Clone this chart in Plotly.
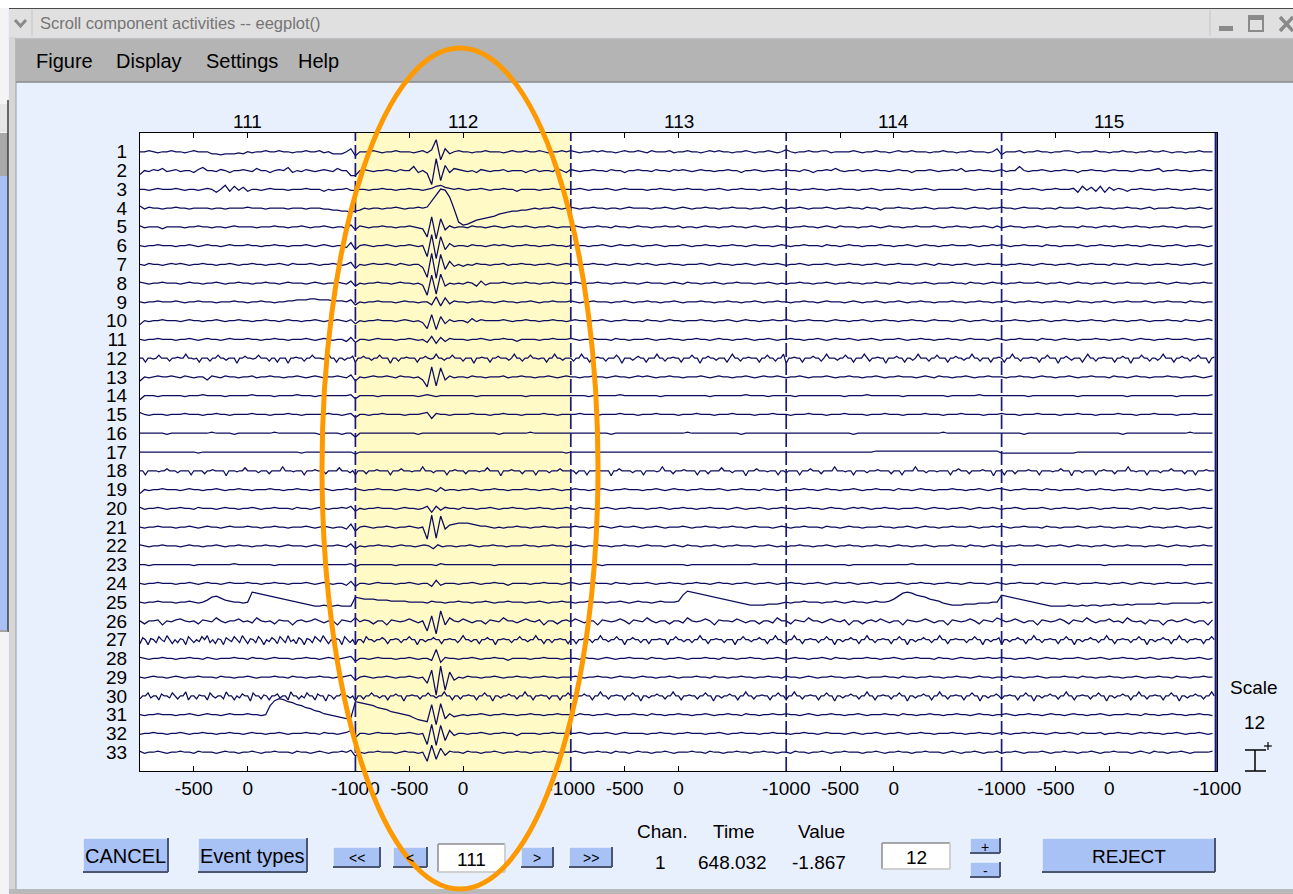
import plotly.graph_objects as go

W, H = 1293, 894

# ---------------------------------------------------------------- data
CHANNEL_LABELS = [str(i) for i in range(1, 34)]
EPOCH_NUMBERS = [111, 112, 113, 114, 115]
EPOCH_SPAN_MS = 2000          # each epoch runs from -1000 ms to +1000 ms
EPOCH_TICK_LATENCIES = [-1000, -500, 0]
SELECTED_EPOCH = 112
SCALE_UV = 12                 # vertical spacing between channels (uV)
UV_PER_STEP = 0.64            # amplitude of one code step in the traces
STATUS_HEADERS = ["Chan.", "Time", "Value"]
STATUS_VALUES = ["1", "648.032", "-1.867"]
EPOCH_BOX_VALUE = "111"
SCALE_BOX_VALUE = "12"

# Component activities, one string per channel, one space-separated block per
# epoch (samples spread evenly over the epoch).  Code letters: 'a' = 0,
# 'b'..'z' = +1..+25, 'A'..'Z' = -1..-26 steps.
CHANNEL_TRACES = [
    "aabaAaabaaAabaaaBBCBBBABaAaabaabaaAaabaabAaBBBad DaaabaAaabaaaAabAcmHdBabaaAaabaaaAabaabaabaAaaba baAaababaaAabaabaAbaaabAaabaaAababaaAaabaAaabaAa caAaabaabbAaaaabaAaabaaAabaabaaaAaabaaAaabaaaAad CaaabAaabaaAaabbaAaaabaaAaabaaAaabaabaAaaAaabaaa",
    "DaAbacAabAaaBbdaaAbaBaabaAcaaBabadBaAbaAabaAcaaE EabaAaabaAbaaeBaCNmJfBcbaAaBbaAaabAaaaBabAaaAcaB baAaabaaAbaaBaabaaAbaaAbabaAabaaAaabaaBaabaAaaba baaAbaBaabacaAaabAaabaaAabaaBaaabaAaabacAaabaaAa bAaaeaAaabaAaabaaBaabaaAabaaaAabaabcAaabaaAaabaa",
    "aaAabaaabaAaaAabaCaeBdAcBaaAabaaaAaaabaaaBaAaabA AaaAaabaaAaabaaAabdecbabaAaabaAaabaaBaaaaAaabaaa aabaAaaabaAabaaaaAaabaaAaabaaaAaabaAaabaaaAaabaa baaAaabaaAaabaaaAaabaAaaabaaAaabaAaaaaaabaAaabaa aaAabaabaAaabaaabCdAcBdCcAbaBaabaaAaabaaAaabaaAa",
    "cAbaaAaabaaAaaaaAaaAaaaabaaaAaaaaAaaaAaaaAABBCCD CBaAaaAaabaAaababhotslANQPNLKJIHFEDCCBBAaAaabaAa baAaabaaAaaAabaaaaAaabaAabaAaabaaAaabaaaAaabaAab AaabaAaaabaAaabaaAbaaBaaabaaAaabaAaaabaaAabaaAaa baaAabaaaAaaAbaaabaAaabaaAaabaaAabAaaabaaAaabaAa",
    "bAaaaBaaaaAaabaaAaaAabaaaaAaaabaaAaabaAaabaAaaBc CbaAaabaaAaabaABJkLiCbAaaAbaaAabaAabaabaAaabaAaa abaAaabaaAbaaAabaaAaabaabAaaAabaaAaabaaAabaAaaba aAaabaaAabaAbaaaAaabaAabaaAaabaaabaAaabaaAaabaAb AabaaAaabaAaabaaaAbaaAababaAaabaaAaabaaAabaaaAab",
    "aAaabaaaAaabaAabaaAabaaabaaAaabaaAaaabaAabaAaaBd DabaAaabaAaabaAaKlMjDcAaaAbaaAababaAaabaaAaabaaA abaaAaabaAabaabaAaabaAaaabaAaabaaAaabaaAabaaaAab aAaabaaaAbaaAabaaAaaabaaAaabaAabaaAaabaaabaAaaba baAaabaaaAbaaAaaabaAaabaaAaabaaAabaaAaabaAaabaAa",
    "aAbaaAababaAaabaaAaabaAaabaaAaabaAbaaabaAaabaAac DaAabaabaAbaAaaCMlNkEdBaBaAbaaAaabAaabaaAaabaAab aaAaabaaAabaaAababaAaabaaAaaabaAabaaAaabaAabaaba AaabaAaaabaAaabaaAaabaAaabaaaAabaAbaaAaabaAaabaa aAaabaaAabaaAaabaAaabaaaAbaaAabaaAaaabaaAaabaAab",
    "baAaabaaaAabaaAaabaAaabaaAaabaaAabaaaAabaAaabaAc CaAaabaaAabaaAaBLiKjCaAaAbaCcBaaabaAaabaaAaabaaA abaAaabaaAaabaaAabaaaAabaAbaaAaabaAaabaaaAaabaAa AaabaaAaabaAaabaaAaabaaAabaaAaabaAaaabaaAbaaAaba aAaabaaabaAaabaAabaaAaabaAaabaaaAaabaAabaaAaabaa",
    "aAaabaaabaAaabaaaAaaabaaAaabaaAaabbcccddcccbbbac CaAaabaaaAabaaAaaCfDeBbaaAaabaaAabaaAaabaAaabaaa baAaabaaaAaabaAaabaaAaabaAaaabaaAaabaaAaabaAaaba aAaabaaAabaaaAabaAaabaAaabaAaabaaAaaabaaAaabaaAa abaAaabaaAaabaaAabaaAaabaAaabaaabaAaabaaaAbaaAaa",
    "DaAaabaaaAabaaAaabaAaabaaAaabaaAabaaAaabaAaabaAb CaAaabaaaAabaAaBHgIeCbAaaBcAbaaaabaAaabaaAaabaaA abaaAaabaAaabaaaAbaaAabaaAaaabaaAaabaAabaaAaabaa baAaabaaaAabaaAaabaAaabaaAaabaaAabaaaAabaAaabaAa AaabaaAaabaAaabaaAaabaaAabaaAaabaAaaabaaAbaaAaba",
    "aAaabaaaAaabaAabaaAabaaabaaAaabaaAaaabaAabaAaaBc CaaAabaaaAaabaAaCdDcBbaaaAaabaAaabaaBaaaaAaabaaa baAaabaaaAbaaAaaabaAaabaaAaabaaAabaaAaabaAaabaAa abaaAaabaAabaabaAaabaAaaabaAaabaaAaabaaAabaaaAab aAaabaaaAbaaAabaaAaaabaaAaabaAabaaAaabaaabaAaaba",
    "aaDaaAadaaaCaabaaeaaAaDaaaCaadaaBaaaEaacaaAadaaaCaaDaaaEaabaaCaadaaaAaeaaDaaBaac DaacaaBaadaaaEaaCaabaaaDaacaAaeaaBaadaaaCaaaEaabaaDaacaaaBaeaaCaadaaAaaDaaeaaBaa aCaaeaaDaabaaCaaadaEaaaBacaaDaaaeaaCaabaaDaaadaaEaacaaBaaaDaeaaCaabaaaDaadaaCaae EaabaaDaaacaaCaeaaaBaadaaDaaaeaCaabaaEaaacaaDaaBaeaaaCaadaaaDaacaaBaaeaaCaaaDaab aDaaeaaCaaabaaDaadaaaEaacaBaaaDaeaaCaabaaaDaacaaEaaadaaCaaBaeaaaDaacaaCaadaaaEab",
    "DaAabaabaAbaAaaCbaAbaaAaabAaabaaAaabaAabaAaabaAc DaAabaabaAbaaAaCJkIjCbAaaAbaaAaaabAaabaaAaabaAab aaAaabaaAabaaAababaAaabaaAaaabaAabaaAaabaAabaaba AaabaAaaabaAaabaaAaabaAaabaaaAabaAbaaAaabaAaabaa aAaabaaAabaaAaabaAaabaaaAbaaAabaaAaaabaaAaabaAab",
    "DaaaAaaaaaAaaabaaaaAaaaaabaaaaAaaaabaaaAaaaaaaab CaaaaAaaaaaaaaAabaAaaaaaaaaAaaaaaaaaaaAaaaaaaaaa aaaaAaaaaaabaaaaaaaaAaaaaaaaaaaAaaaaaaabaaaaAaaa aaAaaaaaaaaaaAaaaabaaaaaaaAaaaaaaaaaAaaaaaabaaaa aaaaaaAaaaaaaaaaaAaaaaaaaaaaAaaaaaaaaaaAaaaaaaab",
    "caAaaaAaaabaaaAaabaaAaaaabaaaAaaabaaAaaaaabaaAab CaaAaabaaaaAaaabcDbaaAaaaabaaaAaabaaaAaaaabaaAaa aabaaaAaaaabaaaAaaabaaaaAaaabaaaAaaabaaaaAaaabaa aAaaabaaaAaaabaaaaAaaabaaaAaaaabaaaAaaabaaaaAaaa baaaAaaabaaaaAaaabaaaAaaaabaaaAaaabaaaaAaaabaaaa",
    "aaaaaaAaaaaaaaaabaaaaAaaaaaaaabaaaaaaaaaAaaaaAaa DaaaaaaaaaaaaaAaaaaaaaaaaaaaaaaaAaaaaaabaaaaaaaa aaaaaaaaaAaaaaaaaaaaaaaaaabaaaaaaaaaaaAaaaaaaaaa aaaaaaaaaaaaaaaAaaaaaaaaaaaaaaaaaaabaaaaaaaaaaaa aaaaaAaaaaaaaaaaaaaaaaaaaaaAaaaaaaaaaaaaaabaaaaa",
    "aaaaaaaaaaaaaAaaaaaaaaaaaaaaaaaaaaaaAaaaaaaaaaaa BaaaaaaaaaaaaaaaaaaaaaaaaaaaaaaaaaaaaaaaaaaaaaaA aaaaaaaaaaaaaaaaaaaaaaaaaaaaaaaaaaaaaaaaaaaaaaaa aaaaaaaaaaaaaaaaaaaabbbbbbbbbbbbbbbbbbbbbbbbbbbb AAAAAAAAAAAAAAAAAaaaaaaaaaaaaaaaaaaaaaaaaaaaaaaa",
    "aaDaaaaAaacaaaBaaaaDaaaaCaabaaaaEaaaAaadaaaaBaaaCaaaaeaaaAaaaDaaabaaaCaaaadaaaBa DaaaCaaabaaaaDaaacaaaAaaaeaaaBaaaaDaabaaaCaaaaAaadaaaaEaaabaaaCaaaaDaaaaBaaacaaa aaCaaaDaaabaaaaEaacaaaaBaaaDaaaaAaeaaaCaaabaaaaDaaaCaaaadaaaBaaaaEaaacaaaAaaaDaa BaaaaDaaacaaaCaaaaeaaaAaaDaaaaBaaabaaaaCaaaDaaaaeaaaBaaaAaaaaDaacaaaCaaaabaaaEaa aDaaaCaaaabaaaDaaaaAaacaaaEaaaBaaaaDaabaaaCaaaaeaaAaaaDaaaaBaaacaaaaCaaaDaaabaaa",
    "DaAaabaaaAabaaAaabaAaabaaAaaabaaAaabaaAaabaAaaba baAaabaaaAabaaAabaBcAaaAaabaAaabaaAaaabaaAaabaAa abaaAaabaAaabaaaAaabaAabaaAaabaaabaAaabaaaAbaaAa aAaabaaAabaaAaabaAaabaaaAbaaAabaaAaaabaaAaabaAab baAaabaaaAbaaAaaabaAaabaaAaabaaAabaaAaabaAaabaAa",
    "bAaabaAaabaaAbaaaAabaaAaabaAaabaaaAbaaAabaAaabac CaAaabaaaAabaaAacDcBbaaAbaaAaabaAaabaaAaabaaAaab aAbaaAaabaAaabaaaAaabaAaabaaAaabaaaAabaAaabaAaab aaAaabaaAabaaAababaAaabaaAaaabaAabaaAaabaAabaaba AaabaAaaabaAaabaaAaabaAaabaaaAabaAbaaAaabaAaabaa",
    "aAaabaaaAaabaAabaaAabaaabaaAaabaaAaaabaAabaAaaBd DabaAaabaAaabaAaLmKlBcdeeedcbbaAaAaabaaAaabaaAaa abaaAaabaAabaabaAaabaAaaabaAaabaaAaabaaAabaaaAab aAaabaaaAbaaAabaaAaaabaaAaabaAabaaAaabaaabaAaaba baAaabaaaAbaaAaaabaAaabaaAaabaaAabaaAaabaAaabaAa",
    "baAaabaaaAabaaAaabaAaabaaAaabaaAabaaaAabaAaabaAc CaAaabaaAabaaAabaCbAaaAaabaAaabaaAaaabaaAaabaaA abaAaabaaAaabaaAabaaaAabaAbaaAaabaAaabaaaAaabaAa AaabaaAaabaAaabaaAaabaaAabaaAaabaAaaabaaAbaaAaba aAaabaaabaAaabaAabaaAaabaAaabaaaAaabaAabaaAaabaa",
    "aaAaaaaaaaaaAaaaaaaaabaaaaaaaaAaaaaaaaaaaaaaaaab BaaaaaaaaAaaaaaaaaAbaaaaaaaaaaaAaaaaaaaaaaaaaaaa aaaaaaaAaaaaaaaaaaaaaaaaaaAaaaaaaaaaaaaaabaaaaaa aaaaaaaaaaaaaaAaaaaaaaaaaaaabaaaaaaaaaaaaaaaaaaa aaaAaaaaaaaaaaaaaaaaaaaAaaaaaaaaaaaaaaaaaAaaaaaa",
    "aAaabaaaAaabaAabaaAabaaabaaAaabaaAaaabaAabaAaaBc CaaAabaaaAaabaAaaCdBaaaAaabaAaabaaBaaaaAaabaaaAa baAaabaaaAbaaAaaabaAaabaaAaabaaAabaaAaabaAaabaAa abaaAaabaAabaabaAaabaAaaabaAaabaaAaabaaAabaaaAab aAaabaaaAbaaAabaaAaaabaaAaabaAabaaAaabaaabaAaaba",
    "aAaabaaaAaabaAacfgecbaaAakjihgfedcbaABCDDCDDCDDD fedddcccbbbbaaaaAbaaAaabaaAaabaAaabaaaAaabaAaaba aAaabaaaAaabaAabaaAabaaabhlkjihgfedcbaABCCCCBBBA aAaabaaaAaabaAabaaAabaabdgjkjhgfdcbABCCCBBBAAAaa hgfedcbaABCDDDDCDDCDCCDCCBCCBCBBBBBABBAAAAAAAaAa",
    "aCaabDaAbcaAaCbaAdaBaacAaBdaAaCbaaDabAacaBaaDbaA dAbaCaaDbaAacaBaJfMkDdaAcaBaaCbaAdaaBacaAbDaaCab AcaBaaDbaAacaCbaAdaBaaCaaBdaAacaDbaaAcaBaaCaaBda aCbaAdaaBacaAbDaaCabAcaBaaDbaAacaBaaDbaAacaCbaAd bAacaBaaDbaAacaCbaAdaBaacAaBdaAaCbaaDabAacaBaaDb",
    "DcaEbaCdaBeaDaCbaEdaCaBdaeCaDbaEcaBdaCeaDbaCdaEaBcaDdaCeBaDcaEbaCdaBeaDaCbaEdaCa EaaCdaaBaacaDaabaCaadaaEaaBaacaaDaabaaCaeaaBaaDaacaaEaabaaCaadaaBaaeaaDaaCaabaaD aaDaabaaCaaeaaBaadaaEaacaaCaaDaaabaaEaadaaBaaCaaeaaDaabaaCaaaEaadaaBaacaaDaaeaaC CaaeaaDaabaaCaadaaEaaBaacaaDaaeaaCaabaaDaadaaEaaBaacaaCaaeaaDaabaaaCaadaaEaaBaac EaaBaacaaDaaeaaCaabaaDaadaaEaaBaacaaCaaeaaDaabaaCaadaaEaaBaacaaDaaeaaCaabaaDaada",
    "baAaabaaAaabaaAbaAaaabaaAbaaAabaaaAaabaaAabaAabc CaaAabaaaAaabaAaaBjDbaaAaabaAaabaaBaaaaAaabaaaAa aaAbaaAabaAaabaaaAbaaAaabaAaaabaaAbaaAaabaaAaaba AabaaAaabaAbaaAaaabaaAaabaAaabaaaAbaaAabaaAaabaa baaAaabaAabaaAaaabaAaabaAaabaaAaabaAaabaaAaabaAa",
    "aAabaaAabaAaabaaaAbaaAaabaAaaabaaAbaaAaabaaAaabc CabaAaabaAaabaAaFhRlMfCaAbaaAaabaAaabaaAaabaaAaa abaAaabaaAabaaAabaaAaabaAaaabaaAbaaAaabaaAaabaaA baaAabaAaabaaAaabaAaaabaaAbaaAaabaaAaabaaAabaaAa aAbaaAaabaAaaabaaAbaaAaabaaAaabaAaabaaAbaaAaabaa",
    "CaadBaaDcaaBdaCaaeDaaCbaaDdaBaaCeaaDaBcaaEdaaCbaDaacBaaDeaaCaBdaaDcaaEbaCaadaaBa EaaCaadaaBaaDaacaaEaabaaCaadaaBaaeaaDaaCaabaaDaadaaEaaBaacaaCaaeaaDaabaaCaaaDaad aaBaacaaDaaeaaCaabaaDaadaaEaaBaacaaCaaeaaDaabaaCaadaaEaaBaacaaDaaeaaCaabaaDaadaa DaaeaaCaabaaDaadaaEaaBaacaaCaaeaaDaabaaCaadaaEaaBaacaaDaaeaaCaabaaDaadaaEaaBaaca CaabaaDaadaaEaaBaacaaCaaeaaDaabaaCaadaaEaaBaacaaDaaeaaCaabaaDaadaaEaaBaacaaCaaea",
    "aAaabaaaAaabaAabaaAabaaabaaAajoqpnmkjhgedbaABCDC nmlkjhgfdcbaACEFGkJlDbBAaAaabaAaabaaAaabaaAaabaa aAbaaAaabaAaaabaaAbaaAaabaaAaabaAaabaaAbaaAaabaa baaAabaAaabaaAaabaAaaabaaAbaaAaabaaAaabaaAabaaAa abaAaabaaAabaaAabaaAaabaAaaabaaAbaaAaabaaAaabaaA",
    "AaabaaAaabaAaabaaAaabaaAabaaAaabaAaaabaaAbaaAabd DaaAabaaaAaabaAaKjLiGdBaaAaabaAaabaaBaaaaAaabaaa aabaAaaabaAabaaaaAaabaaAaabaaaAaabaAaabaaaAaabaa aAaabaaAabaaaAabaAaabaAaabaAaabaaAaaabaaAaabaaAa baAaababaaAabaabaAbaaabAaabaaAababaaAaabaAaabaAa",
    "bAaabaAaabaaAbaaaAabaaAaabaAaabaaaAbaaAabaAaabac DaAaabaaaAabaaAaIhGeCbaaAbaaAaabaAaabaaAaabaaAaa abaAaabaaAbaaAabaaAaabaAaaabaaAbaaAaabaaAaabaaAa aAbaaAaabaAaabaaaAaabaAaabaaAaabaaaAabaAaabaAaab AaabaAaaabaAaabaaAaabaAaabaaaAabaAbaaAaabaAaaaab",
]

# ---------------------------------------------------------------- styles
LAVENDER = "#e9f0fd"
TRACE_COLOR = "#0c0c5e"
BOUNDARY_COLOR = "#1a1a78"
HIGHLIGHT = "#fffac6"
BTN_FILL = "#a9c2f6"
ORANGE = "#ff9900"
NUM_FONT = "Liberation Sans, Arial, Helvetica, sans-serif"

PLOT_L, PLOT_R, PLOT_T, PLOT_B = 140, 1217, 133, 771


def px(x):
    return x / W


def py(y):
    return 1 - y / H


def decode(block):
    return [(ord(c) - 97) if c.islower() else -(ord(c) - 64) for c in block]


n_ch = len(CHANNEL_LABELS)
n_ep = len(EPOCH_NUMBERS)

fig = go.Figure()

# ---------------------------------------------------------------- traces
for ch_idx, row in enumerate(CHANNEL_TRACES):
    offset = (n_ch - ch_idx) * SCALE_UV
    xs, ys = [], []
    for e, block in enumerate(row.split()):
        steps = decode(block)
        n = len(steps)
        for j, s in enumerate(steps):
            xs.append(e * EPOCH_SPAN_MS + j * EPOCH_SPAN_MS / n)
            ys.append(offset + s * UV_PER_STEP)
    fig.add_trace(go.Scatter(
        x=xs, y=ys, mode="lines",
        line=dict(color=TRACE_COLOR, width=1.25),
        hoverinfo="skip", showlegend=False,
    ))

# ---------------------------------------------------------------- axes ticks
tickvals, ticktext = [], []
for e in range(n_ep):
    for lat in EPOCH_TICK_LATENCIES:
        if e == 0 and lat == EPOCH_TICK_LATENCIES[0]:
            continue
        tickvals.append(e * EPOCH_SPAN_MS + lat + EPOCH_SPAN_MS / 2)
        ticktext.append(str(lat))
tickvals.append(n_ep * EPOCH_SPAN_MS)
ticktext.append(str(EPOCH_TICK_LATENCIES[0]))

shapes = []
annotations = []


def rect(x0, y0, x1, y1, fill, line=None, lw=0, layer="below"):
    shapes.append(dict(
        type="rect", xref="paper", yref="paper",
        x0=px(x0), x1=px(x1), y0=py(y1), y1=py(y0),
        fillcolor=fill, line=dict(color=line or fill, width=lw), layer=layer,
    ))


def seg(x0, y0, x1, y1, color, lw, layer="below"):
    shapes.append(dict(
        type="line", xref="paper", yref="paper",
        x0=px(x0), x1=px(x1), y0=py(y0), y1=py(y1),
        line=dict(color=color, width=lw), layer=layer,
    ))


def text(x, y, s, size=19, color="black", anchor="center", family=NUM_FONT):
    annotations.append(dict(
        x=px(x), y=py(y), xref="paper", yref="paper", text=s,
        showarrow=False, xanchor=anchor, yanchor="middle",
        font=dict(family=family, size=size, color=color),
    ))


def button(x0, y0, x1, y1, label, size=19):
    rect(x0, y0, x1, y1, BTN_FILL, layer="above")
    seg(x0, y0, x1, y0, "#eef3ff", 1.5, "above")
    seg(x0, y0, x0, y1, "#eef3ff", 1.5, "above")
    seg(x0, y1, x1, y1, "#4a5670", 2, "above")
    seg(x1, y0, x1, y1, "#4a5670", 2, "above")
    text((x0 + x1) / 2, (y0 + y1) / 2 + 1, label, size)


def edit_box(x0, y0, x1, y1, label):
    rect(x0, y0, x1, y1, "white", layer="above")
    seg(x0, y0, x1, y0, "#8c8c8c", 1.5, "above")
    seg(x0, y0, x0, y1, "#8c8c8c", 1.5, "above")
    seg(x0, y1, x1, y1, "#d0d0d0", 2, "above")
    seg(x1, y0, x1, y1, "#d0d0d0", 2, "above")
    text((x0 + x1) / 2, (y0 + y1) / 2 + 1, label, 19)


# ---------------------------------------------------------------- window chrome
rect(0, 0, W, 8, "white")
rect(0, 8, 8, H, "#f4f4f4")
rect(0, 104, 8, 132, "#e6e6e6")
rect(0, 133, 8, 176, "#a9a9a9")
rect(0, 176, 8, 630, "#a8c0f6")
seg(8, 100, 8, 632, "#3c3c3c", 1.5)
seg(0, 631, 8, 631, "#8a8a8a", 1.5)
rect(9, 8, 16, H, "#d6d6d6")
seg(16, 38, 16, H, "#9c9c9c", 1)
rect(9, 8, W, 37, "#e0e0e0")
seg(9, 8.5, W, 8.5, "#4a4a4a", 1.2)
seg(32, 10, 32, 36, "#c4c4c4", 1)
seg(1210, 10, 1210, 36, "#c4c4c4", 1)
shapes.append(dict(type="path", xref="paper", yref="paper",
                   path=f"M {px(15)} {py(20)} L {px(20.5)} {py(26)} L {px(26)} {py(20)}",
                   line=dict(color="#8a8a8a", width=3), layer="below"))
text(38, 23, "Scroll component activities -- eegplot()", 16.5, "#757575", "left")
rect(1219, 26, 1233, 31, "#8a8a8a")
rect(1249, 16, 1263, 31, "rgba(0,0,0,0)", "#8a8a8a", 2)
rect(1249, 16, 1263, 20, "#8a8a8a")
seg(1280, 17, 1293, 31, "#8a8a8a", 3.5)
seg(1293, 17, 1280, 31, "#8a8a8a", 3.5)
rect(16, 38, W, 82, "#b4b4b4")
seg(16, 38, W, 38, "#cbcbcb", 1)
seg(16, 82, W, 82, "#8a8a8a", 1.5)
for label, x in zip(["Figure", "Display", "Settings", "Help"], [34, 114, 204, 296]):
    text(x, 61, label, 20, "black", "left")
rect(9, 889, W, H, "#b9b9b9")

# ---------------------------------------------------------------- plot decorations
sel = EPOCH_NUMBERS.index(SELECTED_EPOCH)
shapes.append(dict(type="rect", xref="x", yref="y domain",
                   x0=sel * EPOCH_SPAN_MS, x1=(sel + 1) * EPOCH_SPAN_MS, y0=0, y1=1,
                   fillcolor=HIGHLIGHT, line=dict(width=0), layer="below"))
for e in range(1, n_ep):
    shapes.append(dict(type="line", xref="x", yref="y domain",
                       x0=e * EPOCH_SPAN_MS, x1=e * EPOCH_SPAN_MS, y0=0, y1=1,
                       line=dict(color=BOUNDARY_COLOR, width=1.7, dash="14px,4px"),
                       layer="above"))
shapes.append(dict(type="line", xref="x", yref="y domain",
                   x0=n_ep * EPOCH_SPAN_MS - 12, x1=n_ep * EPOCH_SPAN_MS - 12, y0=0, y1=1,
                   line=dict(color=BOUNDARY_COLOR, width=2.2), layer="above"))

for e, num in enumerate(EPOCH_NUMBERS):
    annotations.append(dict(
        x=e * EPOCH_SPAN_MS + EPOCH_SPAN_MS / 2, y=py(121), xref="x", yref="paper",
        text=str(num), showarrow=False, xanchor="center", yanchor="middle",
        font=dict(family=NUM_FONT, size=19, color="black"),
    ))

# scale indicator on the right
text(1254, 687, "Scale", 19)
text(1254, 722, SCALE_BOX_VALUE, 19)
seg(1255, 750, 1255, 771, "black", 1.5)
seg(1245, 750, 1266, 750, "black", 1.5)
seg(1245, 771, 1266, 771, "black", 1.5)
seg(1264, 746, 1272, 746, "black", 1.2)
seg(1268, 742, 1268, 750, "black", 1.2)

# ---------------------------------------------------------------- controls
button(83, 838, 168, 872, "CANCEL", 20)
button(198, 838, 307, 872, "Event types", 20)
button(333, 847, 380, 867, "&lt;&lt;", 14)
button(393, 847, 427, 867, "&lt;", 14)
edit_box(438, 844, 505, 872, EPOCH_BOX_VALUE)
button(521, 847, 553, 867, "&gt;", 14)
button(569, 847, 612, 867, "&gt;&gt;", 14)
for head, val, x in zip(STATUS_HEADERS, STATUS_VALUES, [662, 734, 821]):
    text(x, 831, head, 19)
    text(x - 2, 862, val, 19)
edit_box(882, 843, 950, 869, SCALE_BOX_VALUE)
button(970, 838, 1000, 853, "+", 14)
button(970, 862, 1000, 877, "-", 14)
button(1042, 838, 1215, 872, "REJECT", 19)

# highlight ellipse drawn on top of everything
shapes.append(dict(type="circle", xref="paper", yref="paper",
                   x0=px(322), x1=px(598), y0=py(889), y1=py(48),
                   line=dict(color=ORANGE, width=5), layer="above"))

fig.update_layout(
    width=W, height=H,
    margin=dict(l=0, r=0, t=0, b=0, pad=0),
    paper_bgcolor=LAVENDER, plot_bgcolor="white",
    showlegend=False, template="none",
    shapes=shapes, annotations=annotations,
    xaxis=dict(
        domain=[px(PLOT_L), px(PLOT_R)], range=[0, n_ep * EPOCH_SPAN_MS],
        tickmode="array", tickvals=tickvals, ticktext=ticktext,
        ticks="inside", ticklen=5, tickcolor="black", tickwidth=1,
        showline=True, linecolor="black", linewidth=1, mirror="ticks",
        showgrid=False, zeroline=False, automargin=False,
        tickfont=dict(family=NUM_FONT, size=19, color="black"),
        ticklabelstandoff=0, fixedrange=True,
    ),
    yaxis=dict(
        domain=[py(PLOT_B), py(PLOT_T)], range=[0, (n_ch + 1) * SCALE_UV],
        tickmode="array",
        tickvals=[(n_ch - i) * SCALE_UV for i in range(n_ch)],
        ticktext=CHANNEL_LABELS,
        ticks="", showline=True, linecolor="black", linewidth=1, mirror=True,
        showgrid=False, zeroline=False, automargin=False,
        tickfont=dict(family=NUM_FONT, size=19, color="black"),
        ticklabelstandoff=8, fixedrange=True,
    ),
)

fig.write_html("out.html", config={"displayModeBar": False})
